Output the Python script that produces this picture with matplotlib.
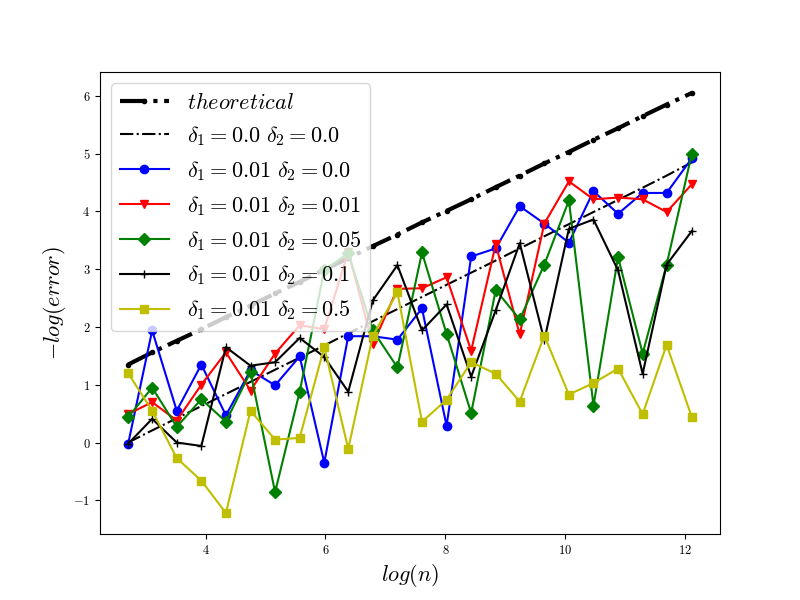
import numpy as np
import matplotlib
matplotlib.use("Agg")
import matplotlib.pyplot as plt

plt.rcParams['font.family'] = 'serif'
plt.rcParams['font.serif'] = ['cmr10']
plt.rcParams['mathtext.fontset'] = 'cm'
plt.rcParams['axes.formatter.use_mathtext'] = True

# log(n) positions
log_n = [2.71, 3.11, 3.52, 3.93, 4.34, 4.75, 5.16, 5.57, 5.98, 6.38, 6.79, 7.20,
         7.61, 8.02, 8.43, 8.84, 9.24, 9.65, 10.06, 10.47, 10.88, 11.29, 11.69, 12.11]

theoretical = [1.35, 1.56, 1.76, 1.96, 2.17, 2.37, 2.58, 2.78, 2.99, 3.19, 3.40, 3.60,
               3.81, 4.01, 4.21, 4.42, 4.62, 4.83, 5.03, 5.24, 5.44, 5.65, 5.85, 6.05]
d00_00 = [0.0, 0.21, 0.42, 0.63, 0.84, 1.05, 1.26, 1.47, 1.68, 1.89, 2.10, 2.31,
          2.52, 2.73, 2.94, 3.15, 3.36, 3.57, 3.78, 3.99, 4.20, 4.41, 4.62, 4.85]
d01_00 = [-0.02, 1.94, 0.55, 1.35, 0.47, 1.25, 0.99, 1.49, -0.35, 1.84, 1.84, 1.78,
          2.32, 0.29, 3.22, 3.36, 4.09, 3.79, 3.46, 4.35, 3.96, 4.32, 4.32, 4.92]
d01_01 = [0.49, 0.70, 0.38, 1.00, 1.56, 0.90, 1.54, 2.03, 1.96, 3.30, 1.70, 2.66,
          2.67, 2.86, 1.59, 3.43, 1.87, 3.79, 4.52, 4.21, 4.24, 4.21, 3.99, 4.47]
d01_05 = [0.44, 0.95, 0.27, 0.75, 0.36, 1.22, -0.86, 0.88, 2.98, 3.28, 1.94, 1.30,
          3.29, 1.88, 0.51, 2.64, 2.13, 3.08, 4.19, 0.64, 3.21, 1.54, 3.08, 5.00]
d01_1 = [-0.02, 0.41, 0.00, -0.06, 1.65, 1.33, 1.39, 1.81, 1.48, 0.88, 2.46, 3.07,
         1.94, 2.39, 1.14, 2.29, 3.45, 1.77, 3.70, 3.86, 2.98, 1.19, 3.08, 3.66]
d01_5 = [1.20, 0.55, -0.27, -0.66, -1.22, 0.55, 0.05, 0.08, 1.65, -0.11, 1.85, 2.60,
         0.36, 0.74, 1.39, 1.19, 0.71, 1.85, 0.83, 1.03, 1.28, 0.49, 1.69, 0.44]

fig, ax = plt.subplots(figsize=(8, 6), dpi=100)
ax.plot(log_n, theoretical, 'k-.', lw=3, marker='.', label=r'$theoretical$')
ax.plot(log_n, d00_00, 'k-.', label=r'$\delta_1 = 0.0\ \delta_2 = 0.0$')
ax.plot(log_n, d01_00, 'bo-', label=r'$\delta_1 = 0.01\ \delta_2 = 0.0$')
ax.plot(log_n, d01_01, 'rv-', label=r'$\delta_1 = 0.01\ \delta_2 = 0.01$')
ax.plot(log_n, d01_05, 'gD-', label=r'$\delta_1 = 0.01\ \delta_2 = 0.05$')
ax.plot(log_n, d01_1, 'k+-', label=r'$\delta_1 = 0.01\ \delta_2 = 0.1$')
ax.plot(log_n, d01_5, 'ys-', label=r'$\delta_1 = 0.01\ \delta_2 = 0.5$')

ax.tick_params(labelsize=9)
ax.set_xlabel(r'$log(n)$', fontsize=16)
ax.set_ylabel(r'$-log(error)$', fontsize=16)
ax.legend(loc='upper left', fontsize=16, handlelength=2.2)
plt.savefig("out.png")
